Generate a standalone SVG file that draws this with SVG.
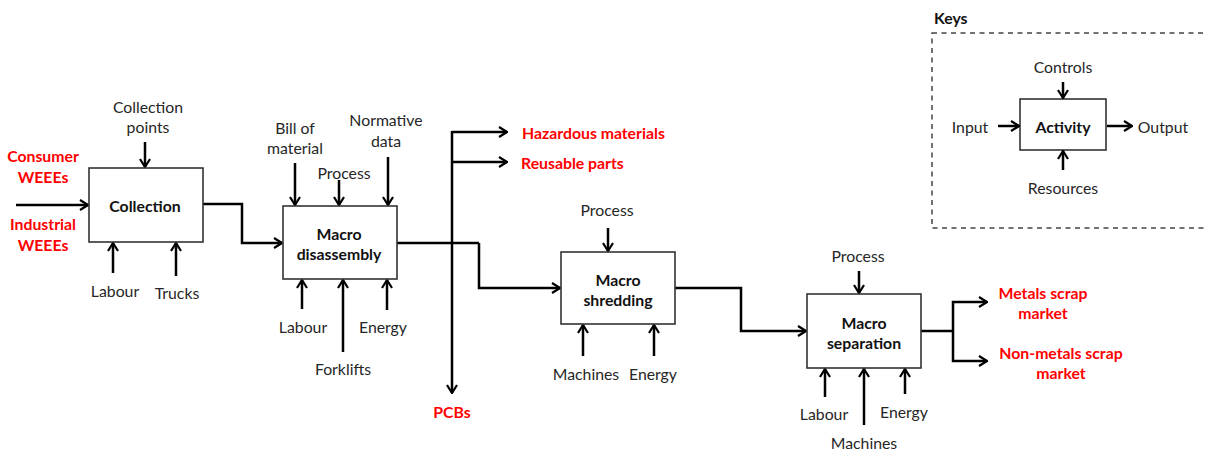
<svg xmlns="http://www.w3.org/2000/svg" width="1205" height="453" viewBox="0 0 1205 453">
<style>
text{font-family:Lato,"Open Sans","Liberation Sans",sans-serif;font-size:15.8px;fill:#262626;text-anchor:middle;dominant-baseline:central}
.b{font-weight:bold;fill:#111}
.r{font-weight:bold;fill:#ff0000}
.l{text-anchor:start}
.box{fill:#fff;stroke:#333;stroke-width:1.6}
.c{fill:none;stroke:#000;stroke-width:2.5;marker-end:url(#ah)}
.p{fill:none;stroke:#000;stroke-width:2.5}
</style>
<defs>
<marker id="ah" viewBox="0 0 10 12" refX="9" refY="6" markerWidth="10" markerHeight="12" markerUnits="userSpaceOnUse" orient="auto">
<path d="M1,1 L9,6 L1,11" fill="none" stroke="#000" stroke-width="2.2"/>
</marker>
</defs>
<rect width="1205" height="453" fill="#fff"/>

<g id="connectors">
<path class="c" d="M16,205 H88"/>
<path class="c" d="M145,142 V167"/>
<path class="c" d="M113,273 V243"/>
<path class="c" d="M176,276 V243"/>
<path class="c" d="M203,204 H242 V243 H282"/>
<path class="c" d="M295,163 V205"/>
<path class="c" d="M339,180 V205"/>
<path class="c" d="M388,157 V205"/>
<path class="c" d="M302,309 V280"/>
<path class="c" d="M343,352 V280"/>
<path class="c" d="M387,310 V280"/>
<path class="p" d="M397,243 H479"/>
<path class="c" d="M479,243 V288 H560"/>
<path class="c" d="M452,131 V393"/>
<path class="c" d="M452,132 H507"/>
<path class="c" d="M452,162 H507"/>
<path class="c" d="M608,228 V251"/>
<path class="c" d="M583,356 V325"/>
<path class="c" d="M654,356 V325"/>
<path class="c" d="M675,288 H741 V331 H806"/>
<path class="c" d="M859,271 V293"/>
<path class="c" d="M825,397 V369"/>
<path class="c" d="M864,425 V369"/>
<path class="c" d="M905,394 V369"/>
<path class="p" d="M921,331 H953"/>
<path class="c" d="M953,331 V302 H987"/>
<path class="c" d="M953,331 V361 H987"/>
</g>

<g id="collection">
<rect class="box" x="89" y="168" width="114" height="74"/>
<text class="b" x="145" y="205">Collection</text>
</g>
<g id="input-labels">
<text class="r" x="43" y="155">Consumer</text>
<text class="r" x="43" y="176">WEEEs</text>
<text class="r" x="43" y="223">Industrial</text>
<text class="r" x="43" y="244">WEEEs</text>
</g>
<g id="collection-labels">
<text x="148" y="106">Collection</text>
<text x="148" y="126">points</text>
<text x="115" y="290">Labour</text>
<text x="177" y="292">Trucks</text>
</g>

<g id="macro-disassembly">
<rect class="box" x="283" y="206" width="114" height="73"/>
<text class="b" x="339" y="233">Macro</text>
<text class="b" x="339" y="253">disassembly</text>
</g>
<g id="disassembly-labels">
<text x="295" y="127">Bill of</text>
<text x="295" y="147">material</text>
<text x="344" y="172">Process</text>
<text x="386" y="119">Normative</text>
<text x="386" y="140">data</text>
<text x="303" y="326">Labour</text>
<text x="343" y="368">Forklifts</text>
<text x="383" y="326">Energy</text>
</g>
<g id="disassembly-outputs">
<text class="r l" x="522" y="132">Hazardous materials</text>
<text class="r l" x="521" y="162">Reusable parts</text>
<text class="r" x="452" y="411">PCBs</text>
</g>

<g id="macro-shredding">
<rect class="box" x="561" y="252" width="114" height="72"/>
<text class="b" x="618" y="279">Macro</text>
<text class="b" x="618" y="299">shredding</text>
</g>
<g id="shredding-labels">
<text x="607" y="209">Process</text>
<text x="586" y="373">Machines</text>
<text x="653" y="373">Energy</text>
</g>

<g id="macro-separation">
<rect class="box" x="807" y="294" width="114" height="74"/>
<text class="b" x="864" y="322">Macro</text>
<text class="b" x="864" y="342">separation</text>
</g>
<g id="separation-labels">
<text x="858" y="255">Process</text>
<text x="824" y="413">Labour</text>
<text x="864" y="442">Machines</text>
<text x="904" y="411">Energy</text>
</g>
<g id="separation-outputs">
<text class="r" x="1043" y="292">Metals scrap</text>
<text class="r" x="1043" y="312">market</text>
<text class="r" x="1061" y="352">Non-metals scrap</text>
<text class="r" x="1061" y="372">market</text>
</g>

<g id="keys">
<text class="b l" x="934" y="17">Keys</text>
<rect x="932" y="33" width="290" height="195" fill="none" stroke="#444" stroke-width="1.5" stroke-dasharray="5,4.5"/>
<rect class="box" x="1020" y="99" width="86" height="51"/>
<text class="b" x="1063" y="126">Activity</text>
<text x="1063" y="66">Controls</text>
<text x="1063" y="187">Resources</text>
<text x="970" y="126">Input</text>
<text x="1163" y="126">Output</text>
<path class="c" d="M1063,82 V98"/>
<path class="c" d="M1063,170 V151"/>
<path class="c" d="M998,126 H1019"/>
<path class="c" d="M1107,126 H1132"/>
</g>
</svg>
